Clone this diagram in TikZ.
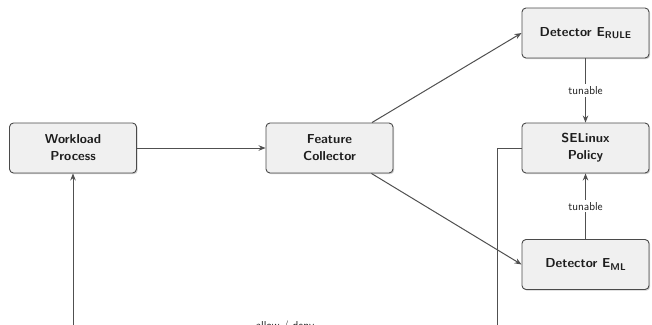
\documentclass[tikz,border=0pt]{standalone}
\usetikzlibrary{arrows.meta,shadows}
\definecolor{boxfill}{HTML}{F0F0F0}
\definecolor{boxline}{HTML}{4A4A4A}
\definecolor{conn}{HTML}{505050}
\definecolor{txt}{HTML}{1E1E1E}
\tikzset{
  box/.style={draw=boxline, line width=0.9pt, fill=boxfill, rounded corners=4pt,
    minimum width=127pt, minimum height=50pt, align=center, text=txt,
    font=\sffamily\bfseries\fontsize{13}{17}\selectfont,
    drop shadow={shadow xshift=1.2pt, shadow yshift=-1.2pt, fill=black, opacity=0.18}},
  conn/.style={draw=conn, line width=1pt, -{Stealth[length=7pt,width=5.5pt]}},
  lab/.style={fill=white, inner sep=2pt, text=txt, font=\sffamily\fontsize{11.5}{13}\selectfont}
}
\newcommand{\subsf}[1]{\raisebox{-2.2pt}{\fontsize{9.8}{10}\selectfont #1}}
\begin{document}
\begin{tikzpicture}[x=1pt,y=-1pt]
\clip (0,0) rectangle (652,324);
\fill[white] (0,0) rectangle (652,324);
\node[box] (wp) at (73,148) {Workload\\Process};
\node[box] (fc) at (329.5,148) {Feature\\Collector};
\node[box] (rule) at (585.5,33) {Detector E\subsf{RULE}};
\node[box] (pol) at (585.5,148) {SELinux\\Policy};
\node[box] (ml) at (585.5,264.5) {Detector E\subsf{ML}};
\coordinate (c1) at (497,148);
\coordinate (c2) at (497,335);
\coordinate (c3) at (73,335);
\draw[conn] (wp) -- (fc);
\draw[conn] (fc) -- (rule.west);
\draw[conn] (fc) -- (ml.west);
\draw[conn] (rule) -- node[lab] {tunable} (pol);
\draw[conn] (ml) -- node[lab] {tunable} (pol);
\draw[conn] (pol.west) -- (c1) -- (c2) -- node[lab, above, fill=none] {allow / deny} (c3) -- (wp.south);
\end{tikzpicture}
\end{document}
